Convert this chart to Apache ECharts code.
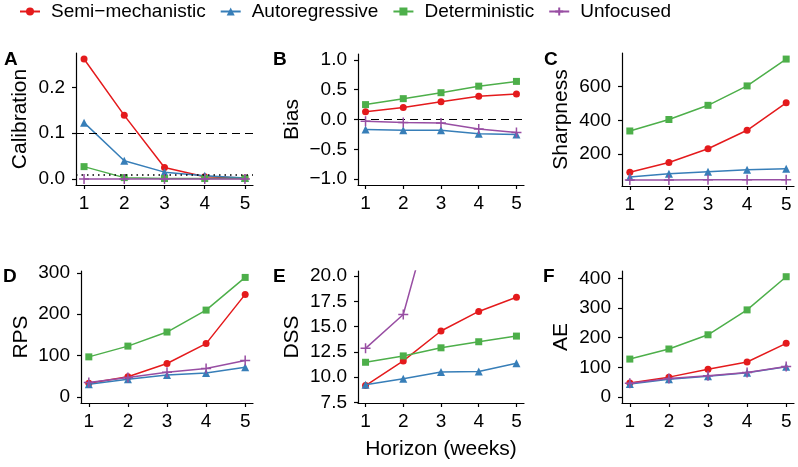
<!DOCTYPE html>
<html><head><meta charset="utf-8">
<script src="https://cdn.jsdelivr.net/npm/echarts@6/dist/echarts.min.js"></script>
<style>html,body{margin:0;padding:0;background:#fff}#c{width:798px;height:467px}</style>
</head><body><div id="c"></div>
<script>
const horizons = [1, 2, 3, 4, 5];
const models = ['Semi−mechanistic', 'Autoregressive', 'Deterministic', 'Unfocused'];

const calibSemi = [0.262, 0.139, 0.025, 0.005, 0.002];
const calibAuto = [0.123, 0.040, 0.015, 0.007, 0.002];
const calibDet  = [0.027, 0.003, 0.001, 0.001, 0.001];
const calibUnf  = [0, 0, 0, 0, 0];

const biasSemi = [0.13, 0.20, 0.30, 0.39, 0.43];
const biasAuto = [-0.17, -0.18, -0.18, -0.24, -0.25];
const biasDet  = [0.25, 0.35, 0.45, 0.56, 0.64];
const biasUnf  = [-0.03, -0.05, -0.06, -0.16, -0.22];

const sharpSemi = [93, 150, 232, 341, 504];
const sharpAuto = [65, 83, 95, 107, 113];
const sharpDet  = [337, 405, 489, 604, 763];
const sharpUnf  = [47, 47, 48, 48, 48];

const rpsSemi = [33, 49, 81, 129, 248];
const rpsAuto = [31, 43, 53, 58, 72];
const rpsDet  = [97, 123, 157, 210, 289];
const rpsUnf  = [35, 47, 60, 69, 88];

const dssSemi = [9.17, 11.6, 14.56, 16.5, 17.9];
const dssAuto = [9.24, 9.83, 10.5, 10.55, 11.38];
const dssDet  = [11.47, 12.1, 12.9, 13.5, 14.06];
const dssUnf  = [12.85, 16.2, 29.7, 40.5, 55];

const aeSemi = [47, 67, 94, 118, 181];
const aeAuto = [44, 60, 70, 82, 102];
const aeDet  = [128, 162, 210, 294, 406];
const aeUnf  = [46, 62, 72, 83, 103];

const calibTicks = [0, 0.1, 0.2];
const biasTicks = [-1, -0.5, 0, 0.5, 1];
const sharpTicks = [200, 400, 600];
const rpsTicks = [0, 100, 200, 300];
const dssTicks = [7.5, 10, 12.5, 15, 17.5, 20];
const aeTicks = [0, 100, 200, 300, 400];

const panelLabels = ['A', 'B', 'C', 'D', 'E', 'F'];
const yTitles = ['Calibration', 'Bias', 'Sharpness', 'RPS', 'DSS', 'AE'];
const xTitle = 'Horizon (weeks)';

const colors = ['#E41A1C', '#377EB8', '#4DAF4A', '#984EA3'];
const symbols = ['circle', 'triangle', 'rect', 'path://M0,5L10,5M5,0L5,10'];
const symSizes = [7, 8, 7, 10];

const panels = [
  {data: [calibSemi, calibAuto, calibDet, calibUnf], ticks: calibTicks, dec: 1, min: -0.0131, max: 0.2751,
   grid: {left: 76, top: 53, width: 177, height: 132}, gap: 45, lab: [4, 50]},
  {data: [biasSemi, biasAuto, biasDet, biasUnf], ticks: biasTicks, dec: 1, min: -1.1, max: 1.1,
   grid: {left: 358, top: 54, width: 166, height: 131}, gap: 55, lab: [273, 50]},
  {data: [sharpSemi, sharpAuto, sharpDet, sharpUnf], ticks: sharpTicks, dec: 0, min: 11, max: 799,
   grid: {left: 622, top: 53, width: 172, height: 133}, gap: 50, lab: [544, 50]},
  {data: [rpsSemi, rpsAuto, rpsDet, rpsUnf], ticks: rpsTicks, dec: 0, min: -14.5, max: 304.5,
   grid: {left: 81, top: 271, width: 172, height: 132}, gap: 49, lab: [3, 267]},
  {data: [dssSemi, dssAuto, dssDet, dssUnf], ticks: dssTicks, dec: 1, min: 7.44, max: 20.5,
   grid: {left: 358, top: 271, width: 166, height: 132}, gap: 55, lab: [273, 267]},
  {data: [aeSemi, aeAuto, aeDet, aeUnf], ticks: aeTicks, dec: 0, min: -20.3, max: 425.3,
   grid: {left: 622, top: 271, width: 172, height: 132}, gap: 50, lab: [543, 267]}
];

const FONT = 'Liberation Sans';
const fmt = (v, d) => { const s = Math.abs(v).toFixed(d); return (v < -1e-9 ? '\u2212' : '') + s; };

const grids = [], xAxes = [], yAxes = [], series = [], titles = [];
panels.forEach((p, i) => {
  grids.push(Object.assign({containLabel: false}, p.grid));
  xAxes.push({
    type: 'value', gridIndex: i, min: 0.8, max: 5.2,
    axisLine: {show: true, onZero: false, lineStyle: {color: '#000', width: 1.2}},
    axisTick: {show: true, length: 4, customValues: horizons, lineStyle: {color: '#000', width: 1.2}},
    axisLabel: {customValues: horizons, margin: 9, fontFamily: FONT, fontSize: 19, color: '#000'},
    splitLine: {show: false},
    name: i === 4 ? xTitle : '', nameLocation: 'middle', nameGap: 36,
    nameTextStyle: {fontFamily: FONT, fontSize: 21, color: '#000'}
  });
  yAxes.push({
    type: 'value', gridIndex: i, min: p.min, max: p.max,
    axisLine: {show: true, lineStyle: {color: '#000', width: 1.2}},
    axisTick: {show: true, length: 4, customValues: p.ticks, lineStyle: {color: '#000', width: 1.2}},
    axisLabel: {customValues: p.ticks, margin: 11, fontFamily: FONT, fontSize: 19, color: '#000',
      formatter: v => fmt(v, p.dec)},
    splitLine: {show: false},
    name: yTitles[i], nameLocation: 'middle', nameGap: p.gap, nameRotate: 90,
    nameTextStyle: {fontFamily: FONT, fontSize: 21, color: '#000'}
  });
  titles.push({text: panelLabels[i], left: p.lab[0], top: p.lab[1], padding: 0,
    textStyle: {fontFamily: FONT, fontSize: 19, fontWeight: 'bold', color: '#000'}});
  p.data.forEach((vals, k) => {
    const s = {
      type: 'line', name: models[k], xAxisIndex: i, yAxisIndex: i,
      data: horizons.map((h, j) => [h, vals[j]]),
      symbol: symbols[k], symbolSize: symSizes[k], showSymbol: true, clip: true,
      lineStyle: {color: colors[k], width: 1.5},
      itemStyle: k === 3 ? {color: colors[k], borderColor: colors[k], borderWidth: 1.5} : {color: colors[k], borderWidth: 0},
      emphasis: {disabled: true}, animation: false, z: 2 + k
    };
    if (i === 0 && k === 0) {
      s.markLine = {silent: true, symbol: 'none', label: {show: false}, animation: false,
        data: [
          {yAxis: 0.1, lineStyle: {color: '#000', type: [8, 5], width: 1.2}},
          {yAxis: 0.01, lineStyle: {color: '#000', type: [1.5, 4], width: 1.5}}
        ]};
    }
    if (i === 1 && k === 0) {
      s.markLine = {silent: true, symbol: 'none', label: {show: false}, animation: false,
        data: [{yAxis: 0, lineStyle: {color: '#000', type: [8, 5], width: 1.2}}]};
    }
    series.push(s);
  });
});

const chart = echarts.init(document.getElementById('c'), null, {renderer: 'canvas'});
chart.setOption({
  backgroundColor: '#fff',
  animation: false,
  title: titles,
  legend: {
    data: models, left: 19, top: 2, padding: 0, itemWidth: 20, itemHeight: 10, itemGap: 14,
    textStyle: {fontFamily: FONT, fontSize: 19, color: '#000', padding: [0, 0, 0, 6]}
  },
  grid: grids, xAxis: xAxes, yAxis: yAxes, series: series
});
</script></body></html>
